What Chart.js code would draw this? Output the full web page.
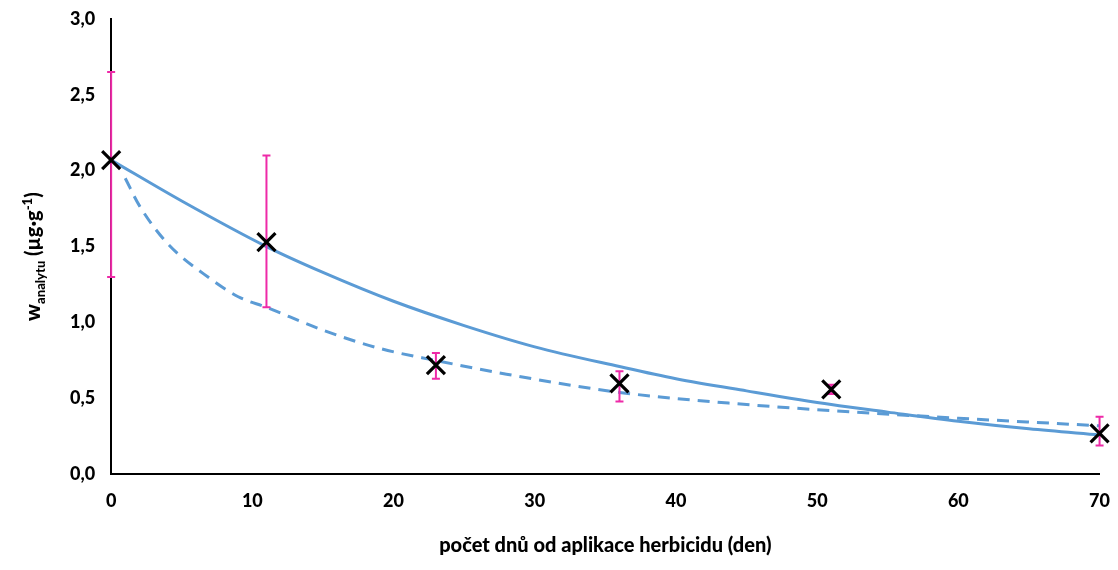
<!DOCTYPE html>
<html><head><meta charset="utf-8">
<script src="https://cdn.jsdelivr.net/npm/chart.js@4"></script>
<style>html,body{margin:0;background:#fff}#w{width:1118px;height:570px}</style>
</head><body><div id="w"><canvas id="c"></canvas></div>
<script>
const days=[0,11,23,36,51,70];
const means=[2.07,1.53,0.72,0.60,0.56,0.27];
const errLow=[1.30,1.10,0.63,0.48,0.53,0.19];
const errHigh=[2.65,2.10,0.80,0.68,0.59,0.38];
const solidX=[0,5,11,15,20,25,30,36,40,45,51,55,60,65,70];
const solidY=[2.07,1.80,1.50,1.33,1.14,0.98,0.84,0.71,0.63,0.55,0.46,0.41,0.35,0.30,0.26];
const dashX=[1,2,4,7,9,11,15,19,23,28,36,45,51,60,70];
const dashY=[1.95,1.77,1.52,1.29,1.17,1.10,0.95,0.83,0.75,0.66,0.54,0.46,0.42,0.37,0.32];
const F='Lato, "Open Sans", sans-serif';
const errPlugin={id:'err',afterDatasetsDraw(ch){const x=ch.scales.x,y=ch.scales.y,c=ch.ctx;c.save();c.strokeStyle='#ee2aa8';c.lineWidth=2;
days.forEach((d,i)=>{const px=x.getPixelForValue(d),a=y.getPixelForValue(errLow[i]),b=y.getPixelForValue(errHigh[i]);c.beginPath();c.moveTo(px,a);c.lineTo(px,b);c.moveTo(px-4,a);c.lineTo(px+4,a);c.moveTo(px-4,b);c.lineTo(px+4,b);c.stroke();});
c.strokeStyle='#000';c.lineWidth=3.2;days.forEach((d,i)=>{const px=x.getPixelForValue(d),py=y.getPixelForValue(means[i]);c.beginPath();c.moveTo(px-9,py-9);c.lineTo(px+9,py+9);c.moveTo(px+9,py-9);c.lineTo(px-9,py+9);c.stroke();});
c.translate(40,(y.top+y.bottom)/2+10);c.rotate(-Math.PI/2);c.fillStyle='#000';c.textBaseline='alphabetic';
const parts=[['w',21,0],['analytu',13,5],[' (µg·g',20,0],['-1',13,-8],[')',20,0]];
let tw=0;parts.forEach(p=>{c.font='900 '+p[1]+'px '+F;tw+=c.measureText(p[0]).width;});
let cx=-tw/2;parts.forEach(p=>{c.font='900 '+p[1]+'px '+F;c.fillText(p[0],cx,p[2]);cx+=c.measureText(p[0]).width;});
c.restore();}};
new Chart(document.getElementById('c'),{type:'scatter',
data:{datasets:[
{data:solidX.map((v,i)=>({x:v,y:solidY[i]})),showLine:true,borderColor:'#5b9bd5',borderWidth:3,pointRadius:0,cubicInterpolationMode:'monotone'},
{data:dashX.map((v,i)=>({x:v,y:dashY[i]})),showLine:true,borderColor:'#5b9bd5',borderWidth:3,borderDash:[12,8],pointRadius:0,cubicInterpolationMode:'monotone'},
{data:days.map((v,i)=>({x:v,y:means[i]})),pointRadius:0}
]},
options:{responsive:true,maintainAspectRatio:false,animation:false,
layout:{padding:{left:62,right:15,top:12,bottom:8}},
plugins:{legend:{display:false},tooltip:{enabled:false}},
scales:{
x:{type:'linear',min:0,max:70,ticks:{stepSize:10,color:'#000',font:{family:F,size:18,weight:'900'},padding:8},
grid:{display:false,drawTicks:true,tickLength:8,tickColor:'#000'},border:{color:'#000',width:2},
title:{display:true,text:'počet dnů od aplikace herbicidu (den)',color:'#000',font:{family:F,size:20,weight:'900'},padding:{top:14}}},
y:{min:0,max:3,ticks:{stepSize:0.5,color:'#000',font:{family:F,size:18,weight:'900'},padding:8,callback:v=>v.toFixed(1).replace('.',',')},
grid:{display:false,drawTicks:true,tickLength:8,tickColor:'#000'},border:{color:'#000',width:2}}
}},plugins:[errPlugin]});
</script></body></html>
